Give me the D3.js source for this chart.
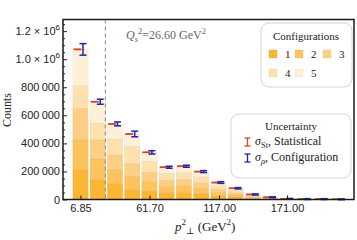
<!DOCTYPE html>
<html>
<head>
<meta charset="utf-8">
<script src="https://cdn.jsdelivr.net/npm/d3@7"></script>
<style>
  body { margin: 0; background: #fff; }
  svg { font-family: "Liberation Serif", "DejaVu Serif", serif; }
  .tick text { font-size: 11px; fill: #222; }
</style>
</head>
<body>
<div id="chart"></div>
<script>
// svg params
var svgWidth = 357;
var svgHeight = 240;

// bin centers of p_perp^2 (GeV^2)
var binCenters = [6.85, 20.55, 34.25, 47.95, 61.65, 75.35, 89.05, 102.75,
                  116.45, 130.15, 143.85, 157.55, 171.25, 184.95, 198.65, 212.35];

// counts per configuration (stacked, config 1 at the bottom)
var config1 = [211000, 142000, 112000, 69000, 59000, 45000, 48000, 40000, 24000, 16000, 7000, 3000, 1000, 600, 600, 300];
var config2 = [213000, 147000, 102000, 95000, 69000, 47000, 47000, 40000, 25000, 16000, 7000, 3000, 1000, 600, 600, 300];
var config3 = [227000, 135000, 104000, 90000, 66000, 46000, 48000, 40000, 24000, 16000, 7000, 3500, 1000, 600, 600, 300];
var config4 = [159000, 121000, 114000, 123000, 78000, 48000, 49000, 41000, 25000, 17000, 8000, 3500, 1000, 600, 600, 300];
var config5 = [260000, 152000, 107000, 90000, 64000, 44000, 45000, 38000, 23000, 15000, 7000, 3000, 1000, 600, 600, 300];

// uncertainties
var sigmaStat = [1030, 830, 730, 680, 580, 480, 490, 450, 350, 280, 190, 130, 70, 55, 55, 40];
var sigmaConf = [41000, 18000, 14000, 20000, 12000, 7000, 7000, 7000, 6000, 5000, 4000, 3000, 3000, 3000, 3000, 3000];

// ticks
var xTickValues = [6.85, 61.70, 117.00, 171.00];
var xTickLabels = ["6.85", "61.70", "117.00", "171.00"];
var yTickValues = [0, 200000, 400000, 600000, 800000, 1000000, 1200000];
var qs2 = 26.60;

var configNames = ["1", "2", "3", "4", "5"];
var colors = ["#fcb634", "#fdc35d", "#fdcf84", "#fee1ad", "#fef0d8"];
var statColor = "#d8471c";
var confColor = "#2323a8";

var svg = d3.select("#chart").append("svg")
  .attr("width", svgWidth)
  .attr("height", svgHeight);

var plot = {left: 63, right: 354, top: 19.5, bottom: 199.5};

var xScale = d3.scaleLinear()
  .domain([-7.06, 224.25])
  .range([plot.left, plot.right]);

var yScale = d3.scaleLinear()
  .domain([0, 1283000])
  .range([plot.bottom, plot.top]);

// stack the data
var table = binCenters.map(function(c, i) {
  return {center: c, c1: config1[i], c2: config2[i], c3: config3[i], c4: config4[i], c5: config5[i],
          stat: sigmaStat[i], conf: sigmaConf[i]};
});
var keys = ["c1", "c2", "c3", "c4", "c5"];
var stacked = d3.stack().keys(keys)(table);

var binWidth = 13.7;
var barW = xScale(binWidth * 0.88) - xScale(0);

// bars
var barGroup = svg.append("g");
barGroup.selectAll("g")
  .data(stacked)
  .enter()
  .append("g")
  .attr("fill", (d, i) => colors[i])
  .attr("stroke", (d, i) => d3.color(colors[i]).darker(0.35))
  .attr("stroke-width", 0.5)
  .attr("stroke-opacity", 0.6)
  .selectAll("rect")
  .data(d => d)
  .enter()
  .append("rect")
  .attr("x", d => xScale(d.data.center) - barW / 2)
  .attr("width", barW)
  .attr("y", d => yScale(d[1]))
  .attr("height", d => Math.max(0, yScale(d[0]) - yScale(d[1])));

// Qs^2 dashed line
svg.append("line")
  .attr("x1", xScale(qs2)).attr("x2", xScale(qs2))
  .attr("y1", plot.top).attr("y2", plot.bottom)
  .attr("stroke", "#8a8a8a")
  .attr("stroke-width", 1)
  .attr("stroke-dasharray", "4,3");

var qsText = svg.append("text")
  .attr("x", 126).attr("y", 39)
  .attr("font-size", 12)
  .attr("fill", "#666");
qsText.append("tspan").attr("font-style", "italic").text("Q");
qsText.append("tspan").attr("font-style", "italic").attr("font-size", 8.5).attr("dy", 3).text("s");
qsText.append("tspan").attr("font-size", 8.5).attr("dy", -8).text("2");
qsText.append("tspan").attr("dy", 5).text("=26.60 GeV");
qsText.append("tspan").attr("font-size", 8.5).attr("dy", -5).text("2");

// error bars
function totalOf(d) { return d.c1 + d.c2 + d.c3 + d.c4 + d.c5; }

function drawErrorBars(key, color, offset, cap) {
  var g = svg.append("g")
    .attr("stroke", color)
    .attr("stroke-width", 1.5)
    .attr("fill", "none");
  var eb = g.selectAll("g").data(table).enter().append("g");
  eb.append("line")
    .attr("x1", d => xScale(d.center) + offset).attr("x2", d => xScale(d.center) + offset)
    .attr("y1", d => yScale(totalOf(d) - d[key])).attr("y2", d => yScale(totalOf(d) + d[key]));
  eb.append("line")
    .attr("x1", d => xScale(d.center) + offset - cap).attr("x2", d => xScale(d.center) + offset + cap)
    .attr("y1", d => yScale(totalOf(d) + d[key])).attr("y2", d => yScale(totalOf(d) + d[key]));
  eb.append("line")
    .attr("x1", d => xScale(d.center) + offset - cap).attr("x2", d => xScale(d.center) + offset + cap)
    .attr("y1", d => yScale(totalOf(d) - d[key])).attr("y2", d => yScale(totalOf(d) - d[key]));
}
drawErrorBars("stat", statColor, -3, 3.8);
drawErrorBars("conf", confColor, 2.5, 3.5);

// axes
var yAxis = d3.axisLeft(yScale)
  .tickValues(yTickValues)
  .tickSizeInner(-4)
  .tickSizeOuter(0)
  .tickPadding(3)
  .tickFormat(d => "");
var yAxisGroup = svg.append("g")
  .attr("transform", `translate(${plot.left}, 0)`)
  .call(yAxis);
yAxisGroup.select(".domain").remove();
yAxisGroup.selectAll(".tick line").attr("stroke", "#222");

// y tick labels with scientific notation for the top ones
yAxisGroup.selectAll(".tick text").each(function(d) {
  var t = d3.select(this);
  if (d >= 1000000) {
    t.append("tspan").text((d / 1000000).toFixed(1) + " \u00d7 10");
    t.append("tspan").attr("font-size", 8).attr("dy", -5).text("6");
  } else if (d === 0) {
    t.text("0");
  } else {
    t.text(d3.format("d")(d / 1000) + "\u2009000");
  }
});

// minor y ticks
var yMinor = d3.range(0, 1283000, 50000).filter(v => yTickValues.indexOf(v) < 0);
svg.append("g")
  .attr("transform", `translate(${plot.left}, 0)`)
  .call(d3.axisLeft(yScale).tickValues(yMinor).tickSizeInner(-2).tickSizeOuter(0).tickFormat(""))
  .call(g => g.select(".domain").remove())
  .selectAll(".tick line").attr("stroke", "#222");

var xAxis = d3.axisBottom(xScale)
  .tickValues(xTickValues)
  .tickSizeInner(-4)
  .tickSizeOuter(0)
  .tickFormat((d, i) => xTickLabels[i]);
var xAxisGroup = svg.append("g")
  .attr("transform", `translate(0, ${plot.bottom})`)
  .call(xAxis);
xAxisGroup.select(".domain").remove();
xAxisGroup.selectAll(".tick line").attr("stroke", "#222");
xAxisGroup.selectAll(".tick text").attr("y", 12.5).attr("dy", 0);

// frame
svg.append("rect")
  .attr("x", plot.left).attr("y", plot.top)
  .attr("width", plot.right - plot.left)
  .attr("height", plot.bottom - plot.top)
  .attr("fill", "none")
  .attr("stroke", "#1a1a1a")
  .attr("stroke-width", 1.5);

// axis titles
svg.append("text")
  .attr("transform", "translate(11, 110) rotate(-90)")
  .attr("text-anchor", "middle")
  .attr("font-size", 12)
  .attr("fill", "#222")
  .text("Counts");

var xLabel = svg.append("text")
  .attr("x", 175).attr("y", 231)
  .attr("font-size", 13)
  .attr("fill", "#222");
xLabel.append("tspan").attr("font-style", "italic").text("p");
xLabel.append("tspan").attr("font-size", 9).attr("dy", -6).text("2");
xLabel.append("tspan").attr("font-size", 9).attr("dy", 9).text("\u22a5");
xLabel.append("tspan").attr("dy", -3).text(" (GeV");
xLabel.append("tspan").attr("font-size", 9).attr("dy", -6).text("2");
xLabel.append("tspan").attr("dy", 6).text(")");

// Configurations legend
var leg1 = svg.append("g");
leg1.append("rect")
  .attr("x", 261).attr("y", 23).attr("width", 91).attr("height", 64)
  .attr("rx", 8).attr("fill", "#fff").attr("stroke", "#d4d4d4");
leg1.append("text")
  .attr("x", 306).attr("y", 40)
  .attr("text-anchor", "middle").attr("font-size", 11).attr("fill", "#222")
  .text("Configurations");
var legPos = [[269, 50], [295, 50], [323, 50], [269, 69], [295, 69]];
configNames.forEach(function(name, i) {
  leg1.append("rect")
    .attr("x", legPos[i][0]).attr("y", legPos[i][1])
    .attr("width", 8).attr("height", 8)
    .attr("fill", colors[i])
    .attr("stroke", d3.color(colors[i]).darker(0.3)).attr("stroke-width", 0.5).attr("stroke-opacity", 0.6);
  leg1.append("text")
    .attr("x", legPos[i][0] + 16).attr("y", legPos[i][1] + 7.5)
    .attr("font-size", 11).attr("fill", "#222")
    .text(name);
});

// Uncertainty legend
var leg2 = svg.append("g");
leg2.append("rect")
  .attr("x", 231).attr("y", 114).attr("width", 120).attr("height", 64)
  .attr("rx", 8).attr("fill", "#fff").attr("stroke", "#d4d4d4");
leg2.append("text")
  .attr("x", 291).attr("y", 130)
  .attr("text-anchor", "middle").attr("font-size", 11).attr("fill", "#222")
  .text("Uncertainty");

function legendBar(cx, y1, y2, color) {
  var g = leg2.append("g").attr("stroke", color).attr("stroke-width", 1.3);
  g.append("line").attr("x1", cx).attr("x2", cx).attr("y1", y1).attr("y2", y2);
  g.append("line").attr("x1", cx - 3).attr("x2", cx + 3).attr("y1", y1).attr("y2", y1);
  g.append("line").attr("x1", cx - 3).attr("x2", cx + 3).attr("y1", y2).attr("y2", y2);
}
legendBar(247.5, 138, 146, statColor);
legendBar(247.5, 154, 162, confColor);

var row1 = leg2.append("text").attr("x", 255).attr("y", 145).attr("font-size", 12).attr("fill", "#222");
row1.append("tspan").attr("font-style", "italic").text("\u03c3");
row1.append("tspan").attr("font-size", 8.5).attr("dy", 2.5).text("St");
row1.append("tspan").attr("dy", -2.5).text(", Statistical");

var row2 = leg2.append("text").attr("x", 255).attr("y", 161).attr("font-size", 12).attr("fill", "#222");
row2.append("tspan").attr("font-style", "italic").text("\u03c3");
row2.append("tspan").attr("font-style", "italic").attr("font-size", 8.5).attr("dy", 2.5).text("\u03c1");
row2.append("tspan").attr("dy", -2.5).text(", Configuration");
</script>
</body>
</html>
